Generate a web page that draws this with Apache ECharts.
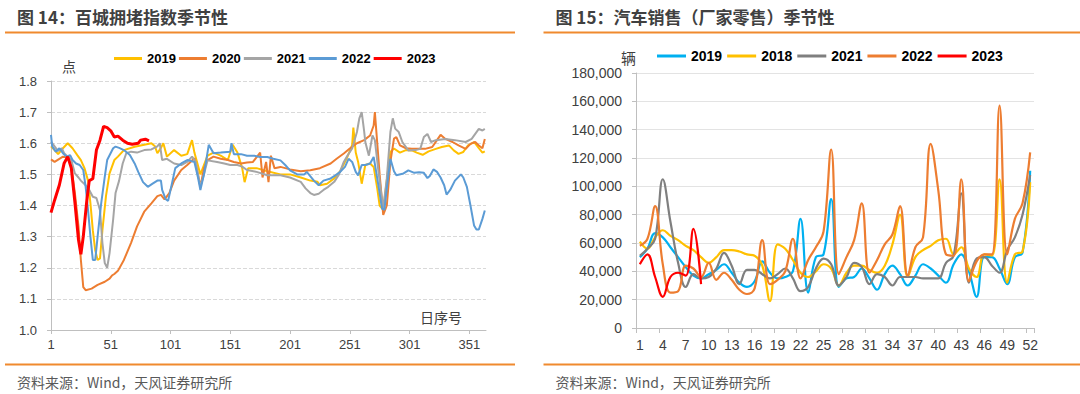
<!DOCTYPE html>
<html><head><meta charset="utf-8">
<script src="https://cdn.jsdelivr.net/npm/echarts@6/dist/echarts.min.js"></script>
<style>
html,body{margin:0;padding:0;background:#fff;width:1080px;height:394px;overflow:hidden}
#l{position:absolute;left:0;top:0;width:540px;height:394px}
#r{position:absolute;left:540px;top:0;width:540px;height:394px}
</style>
</head><body><div id="l"></div><div id="r"></div>
<script>
// ---------- Left chart: 百城拥堵指数 (day of year, index) ----------
const dayTicks = [1, 51, 101, 151, 201, 251, 301, 351];
const congNames = ['2019', '2020', '2021', '2022', '2023'];
const cong2019 = [[1,1.59],[4,1.578],[7,1.565],[11,1.584],[15,1.60],[19,1.584],[23,1.562],[26,1.546],[29,1.52],[32,1.48],[34,1.407],[36,1.32],[38,1.256],[40,1.225],[42,1.23],[44,1.32],[47,1.43],[50,1.503],[54,1.546],[57,1.557],[62,1.578],[71,1.589],[79,1.595],[85,1.60],[88,1.59],[90,1.568],[93,1.585],[95,1.60],[98,1.557],[104,1.578],[110,1.56],[115,1.565],[119,1.61],[121,1.57],[126,1.50],[132,1.56],[137,1.57],[143,1.56],[149,1.546],[153,1.595],[157,1.57],[161,1.52],[163,1.475],[166,1.52],[173,1.52],[182,1.51],[193,1.50],[201,1.50],[210,1.49],[218,1.48],[224,1.476],[226,1.465],[232,1.47],[238,1.487],[243,1.51],[249,1.556],[253,1.594],[254,1.65],[256,1.57],[258,1.54],[261,1.47],[264,1.53],[268,1.535],[271,1.524],[274,1.455],[276,1.40],[279,1.386],[282,1.48],[285,1.572],[288,1.583],[293,1.57],[298,1.578],[303,1.577],[307,1.57],[312,1.563],[317,1.574],[323,1.582],[328,1.588],[334,1.593],[338,1.577],[342,1.566],[346,1.572],[350,1.593],[355,1.604],[359,1.584],[362,1.57],[364,1.574]];
const cong2020 = [[1,1.548],[4,1.54],[8,1.55],[11,1.557],[15,1.555],[18,1.525],[21,1.44],[24,1.333],[26,1.225],[28,1.138],[30,1.128],[35,1.133],[40,1.145],[46,1.155],[50,1.165],[52,1.175],[54,1.18],[57,1.19],[62,1.225],[68,1.28],[73,1.333],[79,1.38],[85,1.407],[90,1.43],[93,1.434],[96,1.42],[100,1.44],[104,1.48],[110,1.514],[115,1.53],[121,1.552],[124,1.50],[126,1.46],[129,1.52],[132,1.546],[137,1.557],[143,1.55],[149,1.546],[154,1.54],[160,1.535],[165,1.538],[170,1.54],[176,1.57],[178,1.49],[181,1.54],[183,1.475],[185,1.56],[188,1.52],[193,1.524],[201,1.516],[210,1.51],[218,1.513],[226,1.52],[235,1.535],[240,1.55],[246,1.567],[251,1.583],[257,1.60],[263,1.61],[268,1.625],[271,1.657],[272,1.70],[274,1.60],[276,1.50],[279,1.37],[282,1.40],[285,1.54],[288,1.615],[290,1.62],[293,1.593],[298,1.584],[303,1.582],[309,1.582],[314,1.582],[320,1.588],[324,1.61],[327,1.627],[331,1.614],[337,1.604],[342,1.593],[348,1.582],[352,1.598],[356,1.604],[359,1.593],[362,1.584],[364,1.614]];
const cong2021 = [[1,1.605],[4,1.59],[7,1.575],[10,1.584],[12,1.568],[15,1.557],[18,1.546],[21,1.503],[24,1.49],[26,1.48],[30,1.465],[33,1.45],[36,1.428],[39,1.424],[42,1.385],[44,1.28],[46,1.215],[48,1.20],[50,1.247],[53,1.355],[55,1.44],[58,1.48],[61,1.535],[64,1.568],[68,1.573],[73,1.57],[79,1.578],[85,1.58],[90,1.59],[92,1.60],[94,1.546],[98,1.55],[104,1.535],[110,1.53],[115,1.54],[119,1.557],[122,1.54],[126,1.46],[129,1.50],[132,1.545],[140,1.54],[146,1.535],[151,1.53],[157,1.53],[161,1.525],[165,1.514],[173,1.508],[182,1.497],[193,1.497],[201,1.49],[210,1.476],[214,1.455],[218,1.44],[221,1.434],[225,1.438],[229,1.45],[233,1.46],[238,1.476],[242,1.50],[246,1.54],[249,1.56],[253,1.583],[257,1.636],[259,1.68],[261,1.70],[263,1.64],[264,1.604],[267,1.56],[270,1.625],[272,1.61],[275,1.51],[279,1.39],[282,1.487],[285,1.636],[287,1.68],[289,1.647],[292,1.636],[295,1.604],[300,1.577],[306,1.578],[310,1.582],[313,1.62],[316,1.63],[319,1.604],[323,1.61],[331,1.614],[339,1.61],[348,1.604],[353,1.614],[359,1.646],[362,1.641],[364,1.646]];
const cong2022 = [[1,1.627],[2,1.59],[5,1.573],[8,1.584],[11,1.568],[14,1.557],[17,1.562],[19,1.546],[22,1.535],[25,1.53],[28,1.514],[30,1.46],[32,1.385],[34,1.30],[36,1.225],[38,1.225],[40,1.30],[43,1.407],[46,1.493],[48,1.546],[53,1.584],[55,1.589],[58,1.585],[62,1.578],[67,1.562],[71,1.535],[74,1.508],[78,1.475],[82,1.46],[86,1.47],[90,1.48],[93,1.48],[94,1.45],[97,1.42],[99,1.415],[102,1.467],[105,1.52],[110,1.535],[115,1.546],[121,1.54],[124,1.49],[126,1.45],[129,1.50],[133,1.595],[137,1.568],[143,1.57],[151,1.573],[152,1.60],[154,1.565],[160,1.565],[165,1.56],[171,1.56],[176,1.556],[182,1.556],[187,1.55],[193,1.545],[197,1.53],[201,1.513],[207,1.50],[213,1.50],[215,1.508],[221,1.48],[225,1.465],[229,1.48],[235,1.487],[239,1.497],[243,1.508],[247,1.524],[250,1.55],[253,1.54],[256,1.508],[258,1.497],[261,1.53],[264,1.53],[268,1.535],[271,1.556],[274,1.487],[278,1.39],[280,1.386],[282,1.455],[285,1.55],[288,1.51],[290,1.497],[296,1.503],[300,1.513],[305,1.505],[309,1.507],[313,1.505],[316,1.488],[318,1.495],[321,1.516],[324,1.508],[327,1.49],[330,1.465],[332,1.435],[335,1.45],[339,1.48],[344,1.50],[346,1.49],[349,1.46],[352,1.40],[355,1.336],[357,1.323],[359,1.323],[362,1.357],[364,1.384]];
const cong2023 = [[1,1.377],[4,1.417],[8,1.466],[12,1.536],[15,1.557],[18,1.52],[21,1.41],[24,1.29],[26,1.243],[28,1.30],[31,1.417],[33,1.48],[36,1.486],[39,1.578],[42,1.61],[45,1.654],[48,1.65],[51,1.64],[54,1.62],[57,1.623],[61,1.61],[65,1.60],[69,1.597],[74,1.60],[76,1.61],[80,1.613],[83,1.608]];

// ---------- Right chart: 汽车销售（厂家零售） by week ----------
const weeks = ['1','2','3','4','5','6','7','8','9','10','11','12','13','14','15','16','17','18','19','20','21','22','23','24','25','26','27','28','29','30','31','32','33','34','35','36','37','38','39','40','41','42','43','44','45','46','47','48','49','50','51','52'];
const salesNames = ['2019', '2018', '2021', '2022', '2023'];
const sales2019 = [50000,56000,67000,64000,57000,50000,43000,37000,35000,38000,41000,45000,39000,32000,29000,33000,47000,39000,35000,36000,40000,77000,25000,50000,52000,91000,29000,35000,36000,42000,35000,27000,38000,44000,38000,30000,37000,45000,42000,37000,32000,45000,52000,40000,22000,50000,50000,42000,31000,50000,53000,111000];
const sales2018 = [61000,56000,64000,69000,65000,62000,58000,55000,50000,46000,50000,55000,55000,54000,52000,51000,44000,19000,59000,56000,48000,39000,36000,40000,45000,42000,30000,39000,44000,44000,41000,39000,44000,59000,80000,36000,50000,55000,58000,62000,63000,52000,57000,42000,36000,52000,51000,105000,32000,52000,54000,103000];
const sales2021 = [51000,56000,63000,105000,75000,46000,29000,38000,35000,36000,42000,53000,44000,31000,41000,41000,38000,35000,38000,42000,35000,26000,29000,42000,49000,45000,30000,36000,46000,43000,31000,38000,36000,30000,36000,36000,36000,35000,35000,35000,46000,51000,95000,32000,49000,50000,44000,39000,55000,64000,80000,108000];
const sales2022 = [58000,63000,86000,45000,25000,26000,44000,42000,36000,46000,34000,39000,34000,27000,24000,28000,62000,31000,34000,40000,63000,35000,48000,57000,68000,126000,38000,50000,62000,88000,39000,48000,59000,66000,86000,37000,57000,64000,130000,97000,52000,51000,105000,33000,47000,52000,52000,157000,52000,77000,88000,124000];
const sales2023 = [45000,52000,36000,22000,36000,39000,37000,70000,31000];

// ---------- styles ----------
const NUM = "'Liberation Sans','Noto Sans CJK SC',sans-serif";
const CJK = "'Noto Sans CJK SC','Liberation Sans',sans-serif";
const ORANGE = '#F08A2E';
const AXIS = '#BFBFBF';
const LABEL = '#404040';

function deco(x1, x2, title, source) {
  return [
    {type:'line', silent:true, shape:{x1:x1, y1:32.5, x2:x2, y2:32.5}, style:{stroke:ORANGE, lineWidth:2}},
    {type:'line', silent:true, shape:{x1:x1, y1:364.5, x2:x2, y2:364.5}, style:{stroke:ORANGE, lineWidth:2}},
    {type:'text', x:title.x, y:16, style:{text:title.text, fill:'#404040', font:'bold 17px ' + CJK, verticalAlign:'middle'}},
    {type:'text', x:source.x, y:382, style:{text:'资料来源：Wind，天风证券研究所', fill:'#595959', font:'14px ' + CJK, verticalAlign:'middle'}}
  ];
}

// ----- left -----
const leftColors = ['#FFC000', '#ED7D31', '#A5A5A5', '#5B9BD5', '#FF0000'];
const leftData = [cong2019, cong2020, cong2021, cong2022, cong2023];
const chartL = echarts.init(document.getElementById('l'), null, {renderer:'svg'});
chartL.setOption({
  animation:false,
  graphic: deco(5, 515, {x:17, text:'图 14：百城拥堵指数季节性'}, {x:17}).concat([
    {type:'text', x:62, y:66, style:{text:'点', fill:LABEL, font:'14px ' + CJK, verticalAlign:'middle'}},
    {type:'text', x:441, y:317, style:{text:'日序号', fill:LABEL, font:'14px ' + CJK, align:'center', verticalAlign:'middle'}}
  ]),
  legend:{left:109, top:47, icon:'rect', itemWidth:28, itemHeight:3, itemGap:3,
    textStyle:{fontSize:13, fontWeight:'bold', color:'#000', fontFamily:NUM}, data:congNames},
  grid:{left:51, right:54, top:81, bottom:64},
  xAxis:{type:'value', min:1, max:365,
    axisLine:{lineStyle:{color:AXIS}},
    axisTick:{show:true, customValues:dayTicks, length:4, lineStyle:{color:AXIS}},
    axisLabel:{customValues:dayTicks, color:LABEL, fontSize:13, fontFamily:NUM, margin:8},
    splitLine:{show:false}},
  yAxis:{type:'value', min:1.0, max:1.8, interval:0.1,
    axisLine:{show:true, lineStyle:{color:AXIS}},
    axisTick:{show:true, length:4, lineStyle:{color:AXIS}},
    axisLabel:{color:LABEL, fontSize:13, fontFamily:NUM, margin:14, formatter:v => v.toFixed(1)},
    splitLine:{lineStyle:{type:'dashed', color:'#D9D9D9'}}},
  series: congNames.map((n, i) => ({
    name:n, type:'line', data:leftData[i], showSymbol:false, symbol:'none',
    lineStyle:{width: i === 4 ? 3 : 2, color:leftColors[i]}, itemStyle:{color:leftColors[i]}
  }))
});

// ----- right -----
const rightColors = ['#00B0F0', '#FFC000', '#7F7F7F', '#ED7D31', '#FF0000'];
const rightData = [sales2019, sales2018, sales2021, sales2022, sales2023];
const chartR = echarts.init(document.getElementById('r'), null, {renderer:'svg'});
chartR.setOption({
  animation:false,
  graphic: deco(3.5, 540, {x:15.5, text:'图 15：汽车销售（厂家零售）季节性'}, {x:15.5}).concat([
    {type:'text', x:81, y:57, style:{text:'辆', fill:LABEL, font:'15px ' + CJK, verticalAlign:'middle'}}
  ]),
  legend:{left:112, top:44, icon:'rect', itemWidth:29, itemHeight:3, itemGap:5,
    textStyle:{fontSize:14, fontWeight:'bold', color:'#000', fontFamily:NUM}, data:salesNames},
  grid:{left:96, right:46, top:73, bottom:66},
  xAxis:{type:'category', data:weeks, boundaryGap:true,
    axisLine:{lineStyle:{color:AXIS}},
    axisTick:{show:true, interval:2, length:5, lineStyle:{color:AXIS}},
    axisLabel:{interval:2, color:LABEL, fontSize:14, fontFamily:NUM, margin:10},
    splitLine:{show:false}},
  yAxis:{type:'value', min:0, max:180000, interval:20000,
    axisLine:{show:true, lineStyle:{color:AXIS}},
    axisTick:{show:true, length:4, lineStyle:{color:AXIS}},
    axisLabel:{color:LABEL, fontSize:14, fontFamily:NUM, margin:14, formatter:v => v.toLocaleString('en-US')},
    splitLine:{lineStyle:{type:'solid', color:'#E3E3E3'}}},
  series: salesNames.map((n, i) => ({
    name:n, type:'line', data:rightData[i], smooth:0.4, showSymbol:false, symbol:'none',
    lineStyle:{width:2.2, color:rightColors[i]}, itemStyle:{color:rightColors[i]}
  }))
});
</script></body></html>
